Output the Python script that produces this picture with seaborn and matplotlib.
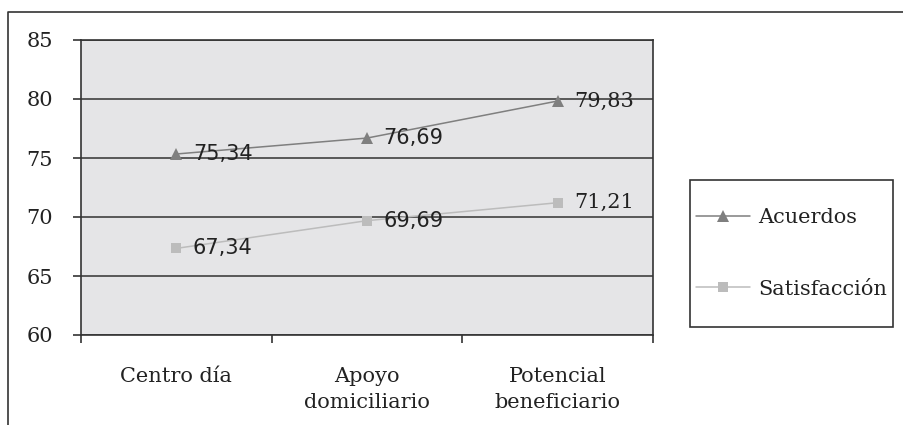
import matplotlib.pyplot as plt
import matplotlib.patches as mpatches
import matplotlib.lines as mlines
import numpy as np
import pandas as pd
import seaborn as sns

categories = ["Centro día", "Apoyo\ndomiciliario", "Potencial\nbeneficiario"]
acuerdos = [75.34, 76.69, 79.83]
satisfaccion = [67.34, 69.69, 71.21]
series_names = ["Acuerdos", "Satisfacción"]
y_ticks = [60, 65, 70, 75, 80, 85]

sns.set_theme(style="white")
plt.rcParams['font.family'] = ['DejaVu Serif']

W, H = 904, 425
FS = 15
fig = plt.figure(figsize=(W / 100, H / 100), dpi=100)
ax = fig.add_axes([81 / W, (H - 335) / H, (653 - 81) / W, (335 - 40) / H])
ax.set_facecolor('#e5e5e7')

pos = np.arange(len(categories)) + 0.5
df = pd.DataFrame({
    'pos': np.concatenate([pos, pos]),
    'valor': acuerdos + satisfaccion,
    'serie': [series_names[0]] * 3 + [series_names[1]] * 3,
})

palette = {series_names[0]: '#7f7f7f', series_names[1]: '#bcbcbc'}
markers = {series_names[0]: '^', series_names[1]: 's'}
msize = {series_names[0]: 8, series_names[1]: 7}
for n in series_names:
    sns.lineplot(data=df[df['serie'] == n], x='pos', y='valor', color=palette[n],
                 marker=markers[n], linewidth=1.1, markersize=msize[n],
                 markeredgewidth=0, ax=ax, legend=False, zorder=3)

# data labels (first two columns look sans in the original)
label_fonts = ['DejaVu Sans', 'DejaVu Sans', 'DejaVu Serif']
for vals in (acuerdos, satisfaccion):
    for i, v in enumerate(vals):
        ax.annotate(f"{v:.2f}".replace('.', ','), (pos[i], v),
                    xytext=(12, 0), textcoords='offset points',
                    ha='left', va='center', fontsize=FS,
                    family=label_fonts[i], color='#222222', zorder=4)

ax.set_xlim(0, len(categories))
ax.set_ylim(60, 85)
ax.set_yticks(y_ticks)
ax.set_yticklabels([str(t) for t in y_ticks])
ax.set_xticks(np.arange(len(categories) + 1))
ax.set_xticklabels([])
ax.set_xticks(pos, minor=True)
ax.set_xticklabels(categories, minor=True, linespacing=1.45)
ax.tick_params(axis='x', which='major', length=6, width=1.2, color='#333333', bottom=True)
ax.tick_params(axis='x', which='minor', length=0, pad=23, labelsize=FS, labelcolor='#222222')
ax.tick_params(axis='y', length=6, width=1.2, color='#333333', pad=14,
               labelsize=FS, labelcolor='#222222', left=True)
ax.set_xlabel('')
ax.set_ylabel('')
ax.yaxis.grid(True, color='#404040', linewidth=1.2)
ax.set_axisbelow(True)
for s in ax.spines.values():
    s.set_color('#333333')
    s.set_linewidth(1.2)

# legend box
fig.patches.append(mpatches.Rectangle((690 / W, (H - 327) / H), (893 - 690) / W, (327 - 180) / H,
                                      transform=fig.transFigure, fill=False,
                                      edgecolor='#333333', linewidth=1.2))
handles = [mlines.Line2D([], [], color=palette[n], marker=markers[n], markersize=msize[n],
                         markeredgewidth=0, linewidth=1.1) for n in series_names]
fig.legend(handles, series_names, loc='center', frameon=False,
           bbox_to_anchor=((690 + 893) / 2 / W, 1 - (180 + 327) / 2 / H),
           fontsize=FS, handlelength=2.6, labelspacing=2.5, handletextpad=0.35,
           labelcolor='#222222')

# outer frame
fig.lines.append(mlines.Line2D([8 / W, 8 / W, 1], [0, 1 - 12 / H, 1 - 12 / H],
                               transform=fig.transFigure, color='#333333', linewidth=1.2))

fig.savefig('out.png', dpi=100, facecolor='white')
